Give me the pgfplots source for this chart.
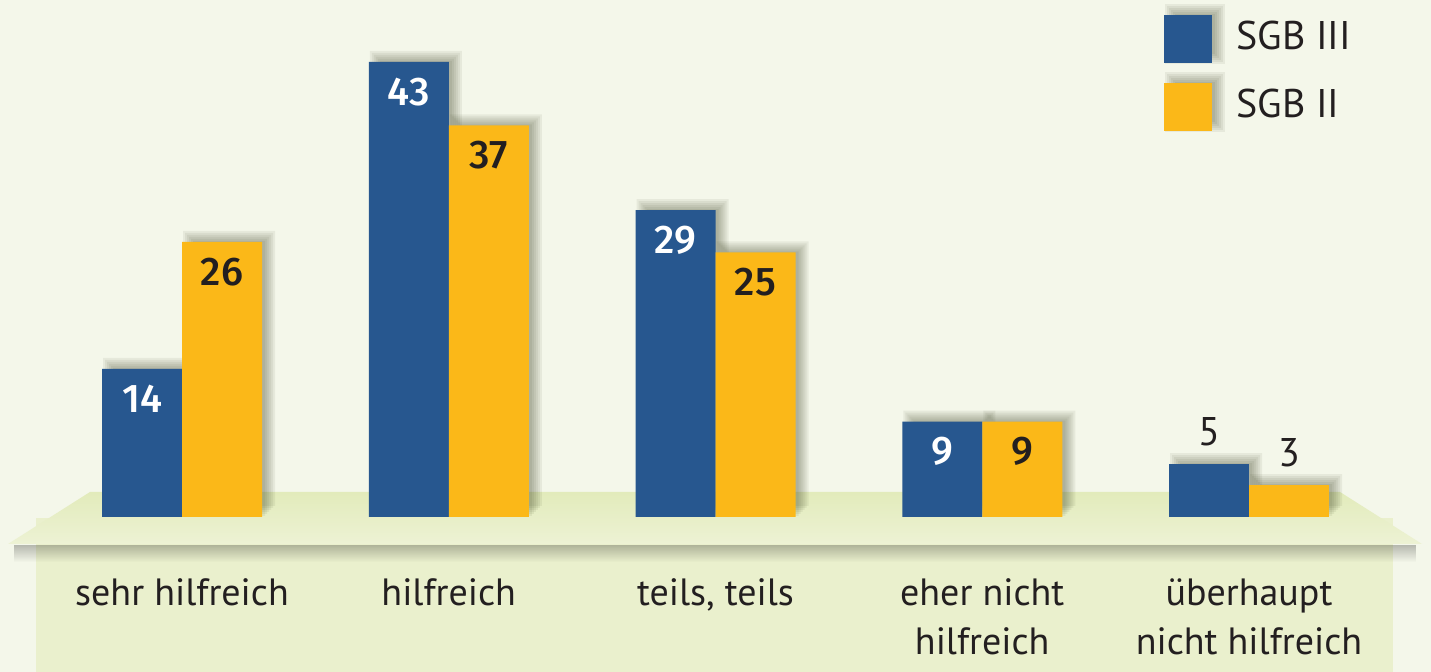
\documentclass[border=0pt]{standalone}
\usepackage{pgfplots}
\pgfplotsset{compat=1.18}
\usepackage{fontspec}
\setmainfont{PT Sans}
\newfontfamily\valfont{Fira Sans}[UprightFont={* Medium}]
\usetikzlibrary{fadings}
\definecolor{bgc}{HTML}{F4F7EA}
\definecolor{ptop}{HTML}{E2EBBB}
\definecolor{pbot}{HTML}{EDF2D4}
\definecolor{panel}{HTML}{EAF0CD}
\definecolor{sgbblue}{HTML}{27578F}
\definecolor{sgbyellow}{HTML}{FBB818}
\definecolor{tdark}{HTML}{231F20}
\definecolor{shc}{HTML}{2A3010}
\begin{document}
\begin{tikzpicture}
\begin{scope}[x=0.5pt, y=0.5pt]
\fill[bgc] (0,0) rectangle (1431,672);
\fill[panel] (36,0) rectangle (1393,154);
\shade[top color=ptop, bottom color=pbot] (90,180) -- (1340,180) -- (1422,128) -- (8,128) -- cycle;
\fill[black, opacity=0.25, path fading=south] (14,127) rectangle (1416,110);
\end{scope}
\begin{axis}[
  at={(0,0)}, anchor=south west,
  scale only axis, width=715.5pt, height=336pt,
  xmin=-0.6823, xmax=4.6823, ymin=-14.65, ymax=48.86,
  axis line style={draw=none},
  major tick length=0pt,
  ytick=\empty,
  xtick={0,1,2,3,4},
  xticklabels={sehr hilfreich, hilfreich, {teils, teils}, eher nicht\\hilfreich, überhaupt\\nicht hilfreich},
  typeset ticklabels with strut,
  xticklabel style={align=center, anchor=north, inner sep=0pt, yshift=50.6pt, font=\fontsize{19}{24.5}\selectfont, text=tdark},
  ybar, bar width=40pt, clip=false,
  /pgf/number format/assume math mode=true,
  legend image code/.code={\foreach \h in {-2,-1,0,1,2,3}{\fill[overlay,shc,opacity=0.065] ({3.5pt-(\h)*1pt},{-11pt-(\h)*1pt}) rectangle ({27.5pt+(\h)*1pt},{13pt+(\h)*1pt});}
     \fill[#1] (0pt,-13.5pt) rectangle (24pt,10.5pt);},
  legend style={at={(rel axis cs:0.8134,0.9777)}, anchor=north west, draw=none, fill=none,
    inner sep=0pt, column sep=12pt, row sep=10pt, font=\fontsize{20}{24}\selectfont, text=tdark,
    nodes={inner sep=0pt}},
  legend cell align=left,
]
% soft shadows, layered
\pgfplotsinvokeforeach{36,38,40,42,44,46}{
\addplot[forget plot, draw=none, fill=shc, fill opacity=0.065, bar width=#1pt, bar shift=-16.5pt, yshift={2.5pt+(#1-40)*0.5pt}] coordinates {(0,14) (1,43) (2,29) (3,9) (4,5)};
\addplot[forget plot, draw=none, fill=shc, fill opacity=0.065, bar width=#1pt, bar shift=23.5pt, yshift={2.5pt+(#1-40)*0.5pt}] coordinates {(0,26) (1,37) (2,25) (3,9) (4,3)};
}
% bars
\addplot[fill=sgbblue, draw=none, bar shift=-20pt, nodes near coords,
  every node near coord/.append style={anchor=center, yshift=-15pt, text=white, font=\fontsize{20}{24}\valfont}]
  coordinates {(0,14) (1,43) (2,29) (3,9)};
\addlegendentry{SGB III}
\addplot[fill=sgbyellow, draw=none, bar shift=20pt, nodes near coords,
  every node near coord/.append style={anchor=center, yshift=-15pt, text=tdark, font=\fontsize{20}{24}\valfont}]
  coordinates {(0,26) (1,37) (2,25) (3,9)};
\addlegendentry{SGB II}
\addplot[forget plot, fill=sgbblue, draw=none, bar shift=-20pt, nodes near coords,
  every node near coord/.append style={anchor=center, yshift=16pt, text=tdark, font=\fontsize{20}{24}\selectfont}]
  coordinates {(4,5)};
\addplot[forget plot, fill=sgbyellow, draw=none, bar shift=20pt, nodes near coords,
  every node near coord/.append style={anchor=center, yshift=16pt, text=tdark, font=\fontsize{20}{24}\selectfont}]
  coordinates {(4,3)};
\end{axis}
\pgfresetboundingbox
\path (0,0) rectangle (715.5pt,336pt);
\end{tikzpicture}
\end{document}
